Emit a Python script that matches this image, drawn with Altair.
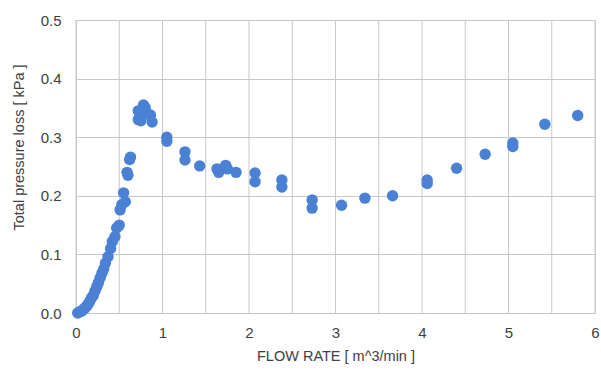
import altair as alt
import pandas as pd

flow = [0.02, 0.04, 0.06, 0.08, 0.10, 0.12, 0.14, 0.16, 0.18, 0.20, 0.22, 0.24, 0.26, 0.28,
        0.30, 0.32, 0.34, 0.37, 0.40, 0.42, 0.45, 0.47, 0.50, 0.51, 0.53, 0.55, 0.57, 0.59, 0.60, 0.62, 0.63,
        0.72, 0.74, 0.78, 0.80, 0.82, 0.72, 0.75, 0.86, 0.88,
        1.05, 1.05, 1.26, 1.26, 1.43, 1.63, 1.65, 1.73, 1.75, 1.85,
        2.07, 2.07, 2.38, 2.38, 2.73, 2.73, 3.07, 3.34, 3.66,
        4.06, 4.06, 4.40, 4.73, 5.05, 5.05, 5.42, 5.80]
loss = [0.000, 0.002, 0.003, 0.005, 0.008, 0.011, 0.015, 0.020, 0.026, 0.030, 0.038, 0.045, 0.052, 0.060,
        0.068, 0.075, 0.085, 0.096, 0.110, 0.122, 0.130, 0.145, 0.150, 0.176, 0.185, 0.205, 0.190, 0.240, 0.235, 0.262, 0.266,
        0.345, 0.340, 0.355, 0.350, 0.340, 0.330, 0.328, 0.338, 0.326,
        0.300, 0.293, 0.275, 0.261, 0.251, 0.246, 0.240, 0.252, 0.246, 0.240,
        0.239, 0.224, 0.227, 0.215, 0.193, 0.179, 0.184, 0.196, 0.200,
        0.227, 0.221, 0.247, 0.271, 0.290, 0.284, 0.322, 0.337]

x_labels = [0, 1, 2, 3, 4, 5, 6]
x_grid = [0, 0.5, 1, 1.5, 2, 2.5, 3, 3.5, 4, 4.5, 5, 5.5, 6]
y_ticks = [0, 0.1, 0.2, 0.3, 0.4, 0.5]

df = pd.DataFrame({"flow": flow, "loss": loss})
grid_df = pd.DataFrame({"flow": x_grid})

font = "Liberation Sans"
txt = "#404040"
gridc = "#c8c8c8"

x_enc = alt.X("flow:Q", scale=alt.Scale(domain=[0, 6], nice=False),
              axis=alt.Axis(values=x_labels, format="d", grid=False,
                            title="FLOW RATE [ m^3/min ]", ticks=False, domain=False,
                            labelPadding=12, titlePadding=9, labelFontSize=15, titleFontSize=14.5,
                            labelFont=font, titleFont=font, labelColor=txt, titleColor=txt,
                            titleFontWeight="normal", labelFlush=False, labelOverlap=False))

grid = alt.Chart(grid_df).mark_rule(color=gridc, strokeWidth=1).encode(x=x_enc)

points = alt.Chart(df).mark_circle(size=130, opacity=1, color="#4A81D4").encode(
    x=x_enc,
    y=alt.Y("loss:Q", scale=alt.Scale(domain=[0, 0.5], nice=False),
            axis=alt.Axis(values=y_ticks, format=".1f",
                          title="Total pressure loss [ kPa ]",
                          ticks=False, domain=False, labelPadding=15,
                          titleX=-57, titleY=127, titleAlign="center", titleBaseline="middle",
                          labelFontSize=15, titleFontSize=14.5, labelFont=font, titleFont=font,
                          labelColor=txt, titleColor=txt, titleFontWeight="normal",
                          gridColor=gridc, labelOverlap=False))
)

chart = alt.layer(grid, points).properties(
    width=519, height=293,
    autosize=alt.AutoSizeParams(type="none"),
    padding={"left": 76, "top": 20, "right": 6, "bottom": 59}
).configure_view(stroke=gridc)

chart.save("out.html", embed_options={"renderer": "svg", "actions": False})
